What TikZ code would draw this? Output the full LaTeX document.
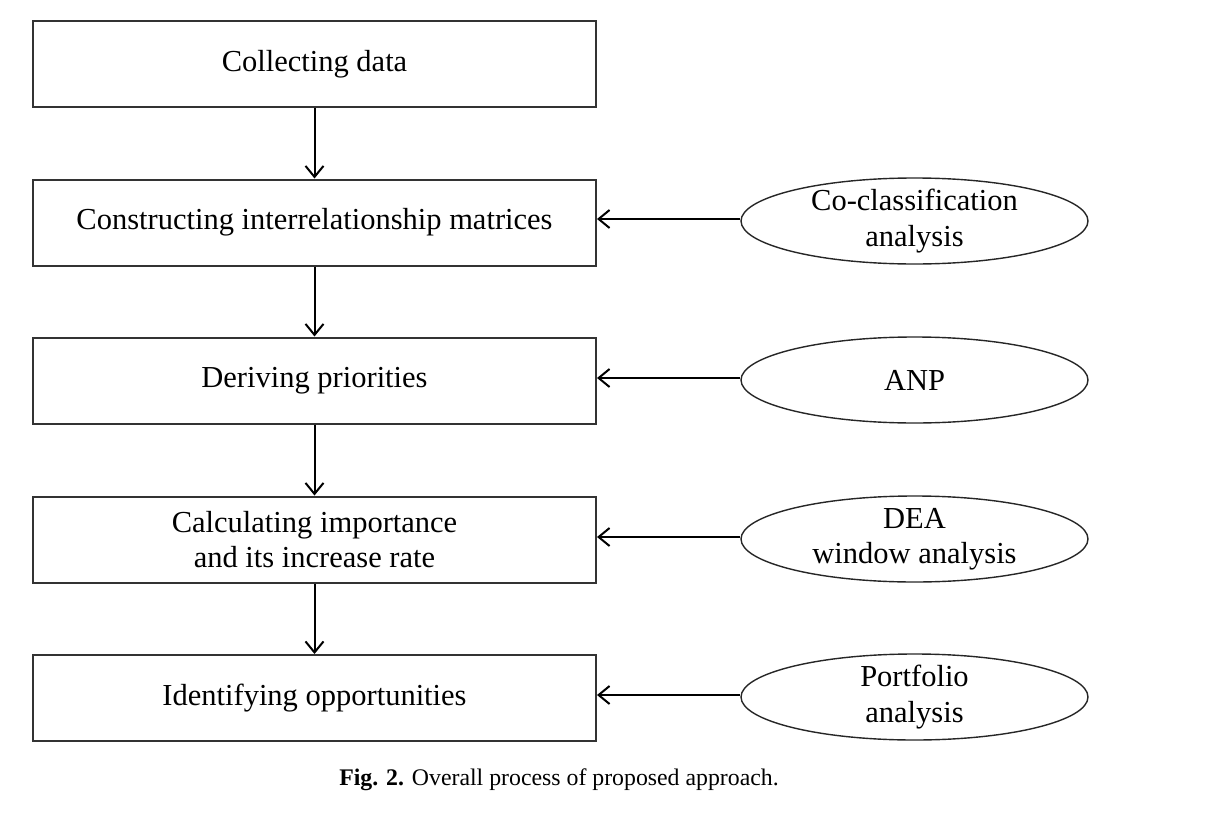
\documentclass[tikz,border=0pt]{standalone}
\usepackage{fontspec}
\setmainfont{Liberation Serif}
\usetikzlibrary{arrows.meta,shapes.geometric}
\begin{document}
\begin{tikzpicture}[x=1pt,y=-1pt,
  stepbox/.style={draw=black!80,line width=2pt,minimum width=563pt,minimum height=86pt,inner sep=0pt,align=center,font=\fontsize{30.5}{35.5}\selectfont},
  methodell/.style={draw=black!85,line width=1.4pt,ellipse,minimum width=347pt,minimum height=86pt,inner xsep=0pt,inner ysep=-10pt,align=center,font=\fontsize{30.5}{35.5}\selectfont},
  conn/.style={line width=2pt,-{Straight Barb[length=11pt,width=18pt,line width=2pt]}}]
\useasboundingbox (0,0) rectangle (1218,816);
\node[stepbox] (b1) at (314.5,64) {Collecting data};
\node[stepbox] (b2) at (314.5,222.5) {Constructing interrelationship matrices};
\node[stepbox] (b3) at (314.5,380.5) {Deriving priorities};
\node[stepbox] (b4) at (314.5,539.5) {Calculating importance\\and its increase rate};
\node[stepbox] (b5) at (314.5,698) {Identifying opportunities};
\node[methodell] (e2) at (914.5,221) {Co-classification\\analysis};
\node[methodell] (e3) at (914.5,380) {ANP};
\node[methodell] (e4) at (914.5,539) {DEA\\window analysis};
\node[methodell] (e5) at (914.5,697) {Portfolio\\analysis};
\draw[conn] (e2.west) ++(0,-2) coordinate (s2) -- (s2 -| b2.east);
\draw[conn] (b1) -- (b2);
\draw[conn] (b2) -- (b3);
\draw[conn] (b3) -- (b4);
\draw[conn] (b4) -- (b5);
\draw[conn] (e3.west) ++(0,-2) coordinate (s3) -- (s3 -| b3.east);
\draw[conn] (e4.west) ++(0,-2) coordinate (s4) -- (s4 -| b4.east);
\draw[conn] (e5.west) ++(0,-2) coordinate (s5) -- (s5 -| b5.east);
\node[font=\fontsize{23.8}{28}\selectfont] (cap) at (559,780) {\textbf{Fig. 2.} Overall process of proposed approach.};
\end{tikzpicture}
\end{document}
